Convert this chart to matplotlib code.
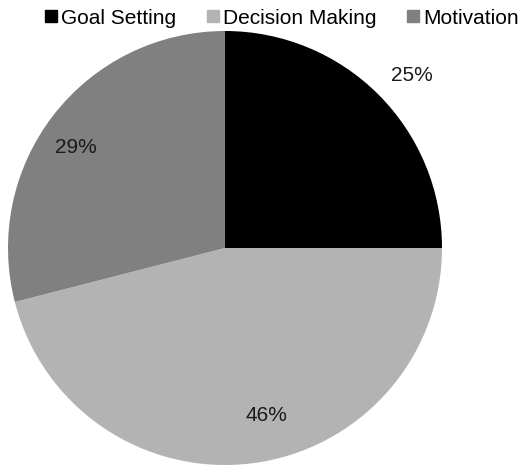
import matplotlib
matplotlib.use("Agg")
import matplotlib.pyplot as plt
from matplotlib.lines import Line2D

plt.rcParams['font.family'] = ['Liberation Sans', 'DejaVu Sans']

categories = ["Goal Setting", "Decision Making", "Motivation"]
values = [25, 46, 29]
colors = ["#000000", "#B3B3B3", "#808080"]
label_pos = [(0.862, 0.797), (0.189, -0.770), (-0.687, 0.465)]

W, H = 519, 466
fig = plt.figure(figsize=(W / 100, H / 100), dpi=100)
cx, cy, r = 225, 248, 217
ax = fig.add_axes([(cx - r) / W, (H - cy - r) / H, 2 * r / W, 2 * r / H])
ax.pie(values, colors=colors, startangle=90, counterclock=False, radius=1,
       wedgeprops=dict(linewidth=0))
ax.set_xlim(-1, 1)
ax.set_ylim(-1, 1)
ax.set_aspect('equal')
ax.axis('off')

for v, (x, y) in zip(values, label_pos):
    ax.text(x, y, f"{v}%", ha='center', va='center', fontsize=15, color='#1a1a1a')

handles = [Line2D([], [], marker='s', linestyle='none', markersize=8,
                  markerfacecolor=c, markeredgecolor=c) for c in colors]
fig.legend(handles, categories, loc='center', bbox_to_anchor=(282 / W, 1 - 18 / H),
           ncol=3, frameon=False, fontsize=15, handlelength=0.6,
           handletextpad=0.2, columnspacing=1.45, borderpad=0, borderaxespad=0)

fig.savefig("out.png", dpi=100)
